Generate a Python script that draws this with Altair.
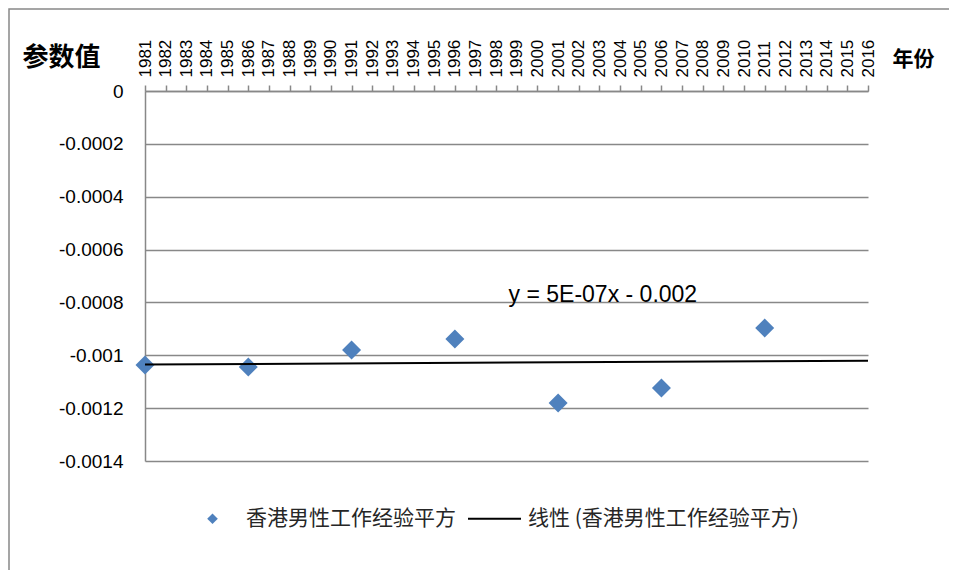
import altair as alt
import pandas as pd

# ---- data ----
years = [1981, 1986, 1991, 1996, 2001, 2006, 2011]
values = [-0.001037, -0.001044, -0.000980, -0.000938, -0.001181, -0.001124, -0.000897]
axis_years = list(range(1981, 2017))
y_ticks = [0, -0.0002, -0.0004, -0.0006, -0.0008, -0.001, -0.0012, -0.0014]
series_name = "香港男性工作经验平方"
trend_name = "线性 (香港男性工作经验平方)"
equation_text = ["y = 5E-07x - 0.002"]
equation_year = [1998.6]
equation_value = [-0.0008]

df = pd.DataFrame({"year": years, "value": values, "series": series_name})
eq_df = pd.DataFrame({"year": equation_year, "value": equation_value, "text": equation_text})

BLUE = "#4F81BD"
GRAY = "#888888"
CJK = "Noto Sans CJK SC"
LATIN = "Liberation Sans"

x_scale = alt.Scale(domain=[1981, 2016], nice=False, zero=False)
y_scale = alt.Scale(domain=[-0.0014, 0], nice=False, zero=False)

x_axis = alt.Axis(
    orient="top", values=axis_years, format="d", labelAngle=-90,
    labelFont=LATIN, labelFontSize=17, labelColor="black", labelPadding=8,
    labelOverlap=False, labelFlush=False, tickSize=6, tickColor=GRAY, tickWidth=1.5,
    domainColor=GRAY, domainWidth=1.5, grid=False,
    title="年份", titleFont=CJK, titleFontSize=21, titleFontWeight="bold",
    titleColor="black", titleAngle=0, titleAlign="center", titleBaseline="middle",
    titleX=768, titleY=-32,
)
y_axis = alt.Axis(
    values=y_ticks, labelExpr="toString(datum.value)",
    labelFont=LATIN, labelFontSize=19, labelColor="black", labelPadding=22,
    labelOverlap=False, tickSize=0, domainColor=GRAY, domainWidth=1.5,
    grid=True, gridColor=GRAY, gridWidth=1.5,
    title="参数值", titleFont=CJK, titleFontSize=26, titleFontWeight="bold",
    titleColor="black", titleAngle=0, titleAlign="center", titleBaseline="middle",
    titleX=-84, titleY=-34,
)

legend = alt.Legend(
    title=None, orient="none", legendX=40, legendY=400, direction="horizontal",
    symbolSize=2809, symbolStrokeWidth=2, symbolOpacity=1,
    labelFont=CJK, labelFontSize=21, labelColor="#262626",
    labelOffset=6, columnPadding=8, labelLimit=0,
)
domain = [series_name, trend_name]
diamond_path = "M-0.2,0L0,-0.2L0.2,0L0,0.2Z"
line_path = "M-1,0L1,0"

frame = alt.Chart(alt.Data(values=[{"k": 1}])).mark_rect(
    fill="transparent", stroke=GRAY, strokeWidth=1.5
).encode(
    x=alt.value(-136), x2=alt.value(1000), y=alt.value(-82), y2=alt.value(1000)
)

points = alt.Chart(df).mark_point(filled=True, size=9025, opacity=1, strokeWidth=2).encode(
    x=alt.X("year:Q", scale=x_scale, axis=x_axis),
    y=alt.Y("value:Q", scale=y_scale, axis=y_axis),
    shape=alt.Shape("series:N", scale=alt.Scale(domain=domain, range=[diamond_path, line_path]), legend=legend),
    fill=alt.Fill("series:N", scale=alt.Scale(domain=domain, range=[BLUE, "transparent"]), legend=legend),
    stroke=alt.Stroke("series:N", scale=alt.Scale(domain=domain, range=["transparent", "black"]), legend=legend),
)

trend = alt.Chart(df).transform_regression(
    "year", "value", extent=[1981, 2016]
).mark_line(color="black", strokeWidth=2).encode(
    x=alt.X("year:Q", scale=x_scale, axis=x_axis),
    y=alt.Y("value:Q", scale=y_scale, axis=y_axis),
)

eq = alt.Chart(eq_df).mark_text(
    align="left", baseline="alphabetic", font=LATIN, fontSize=23, color="black"
).encode(
    x=alt.X("year:Q", scale=x_scale, axis=x_axis),
    y=alt.Y("value:Q", scale=y_scale, axis=y_axis),
    text="text:N",
)

chart = alt.layer(frame, points, trend, eq).properties(
    width=723, height=370,
    autosize=alt.AutoSizeParams(type="none"),
    padding={"left": 137, "top": 83, "right": 81, "bottom": 109},
    background="white",
).configure_view(stroke=None).configure_axis(labelOverlap=False)

chart.save("out.html", embed_options={"renderer": "svg", "actions": False})
